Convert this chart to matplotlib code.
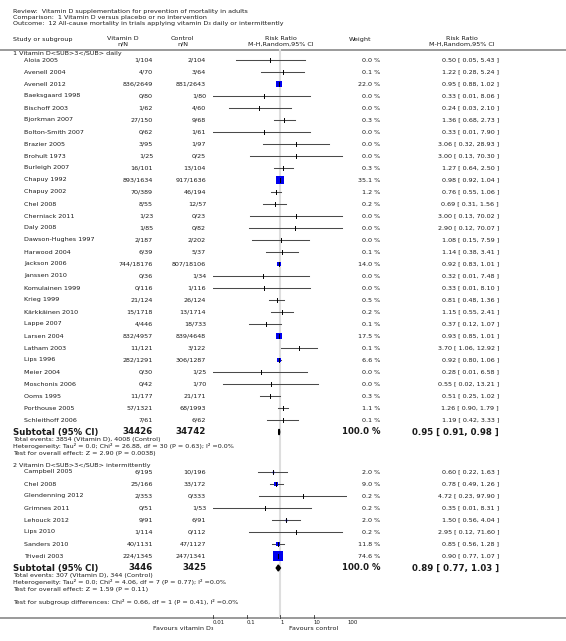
import numpy as np
import matplotlib
matplotlib.use("Agg")
import matplotlib.pyplot as plt
from matplotlib.patches import Polygon

# --- data ---
g1_names = ["Aloia 2005", "Avenell 2004", "Avenell 2012", "Baeksgaard 1998", "Bischoff 2003",
            "Bjorkman 2007", "Bolton-Smith 2007", "Brazier 2005", "Brohult 1973", "Burleigh 2007",
            "Chapuy 1992", "Chapuy 2002", "Chel 2008", "Cherniack 2011", "Daly 2008",
            "Dawson-Hughes 1997", "Harwood 2004", "Jackson 2006", "Janssen 2010", "Komulainen 1999",
            "Krieg 1999", "Kärkkäinen 2010", "Lappe 2007", "Larsen 2004", "Latham 2003",
            "Lips 1996", "Meier 2004", "Moschonis 2006", "Ooms 1995", "Porthouse 2005",
            "Schleithoff 2006"]
g1_vitd = ["1/104", "4/70", "836/2649", "0/80", "1/62", "27/150", "0/62", "3/95", "1/25", "16/101",
           "893/1634", "70/389", "8/55", "1/23", "1/85", "2/187", "6/39", "744/18176", "0/36", "0/116",
           "21/124", "15/1718", "4/446", "832/4957", "11/121", "282/1291", "0/30", "0/42", "11/177",
           "57/1321", "7/61"]
g1_ctrl = ["2/104", "3/64", "881/2643", "1/80", "4/60", "9/68", "1/61", "1/97", "0/25", "13/104",
           "917/1636", "46/194", "12/57", "0/23", "0/82", "2/202", "5/37", "807/18106", "1/34", "1/116",
           "26/124", "13/1714", "18/733", "839/4648", "3/122", "306/1287", "1/25", "1/70", "21/171",
           "68/1993", "6/62"]
g1_weight = [0.0, 0.1, 22.0, 0.0, 0.0, 0.3, 0.0, 0.0, 0.0, 0.3, 35.1, 1.2, 0.2, 0.0, 0.0, 0.0, 0.1,
             14.0, 0.0, 0.0, 0.5, 0.2, 0.1, 17.5, 0.1, 6.6, 0.0, 0.0, 0.3, 1.1, 0.1]
g1_rr = [0.50, 1.22, 0.95, 0.33, 0.24, 1.36, 0.33, 3.06, 3.00, 1.27, 0.98, 0.76, 0.69, 3.00, 2.90,
         1.08, 1.14, 0.92, 0.32, 0.33, 0.81, 1.15, 0.37, 0.93, 3.70, 0.92, 0.28, 0.55, 0.51, 1.26, 1.19]
g1_lo = [0.05, 0.28, 0.88, 0.01, 0.03, 0.68, 0.01, 0.32, 0.13, 0.64, 0.92, 0.55, 0.31, 0.13, 0.12,
         0.15, 0.38, 0.83, 0.01, 0.01, 0.48, 0.55, 0.12, 0.85, 1.06, 0.80, 0.01, 0.02, 0.25, 0.90, 0.42]
g1_hi = [5.43, 5.24, 1.02, 8.06, 2.10, 2.73, 7.90, 28.93, 70.30, 2.50, 1.04, 1.06, 1.56, 70.02, 70.07,
         7.59, 3.41, 1.01, 7.48, 8.10, 1.36, 2.41, 1.07, 1.01, 12.92, 1.06, 6.58, 13.21, 1.02, 1.79, 3.33]

g2_names = ["Campbell 2005", "Chel 2008", "Glendenning 2012", "Grimnes 2011", "Lehouck 2012",
            "Lips 2010", "Sanders 2010", "Trivedi 2003"]
g2_vitd = ["6/195", "25/166", "2/353", "0/51", "9/91", "1/114", "40/1131", "224/1345"]
g2_ctrl = ["10/196", "33/172", "0/333", "1/53", "6/91", "0/112", "47/1127", "247/1341"]
g2_weight = [2.0, 9.0, 0.2, 0.2, 2.0, 0.2, 11.8, 74.6]
g2_rr = [0.60, 0.78, 4.72, 0.35, 1.50, 2.95, 0.85, 0.90]
g2_lo = [0.22, 0.49, 0.23, 0.01, 0.56, 0.12, 0.56, 0.77]
g2_hi = [1.63, 1.26, 97.90, 8.31, 4.04, 71.60, 1.28, 1.07]

sub_n = [("34426", "34742"), ("3446", "3425")]
sub_rr = [0.95, 0.89]
sub_lo = [0.91, 0.77]
sub_hi = [0.98, 1.03]
sub_notes = [
    ["Total events: 3854 (Vitamin D), 4008 (Control)",
     "Heterogeneity: Tau² = 0.0; Chi² = 26.88, df = 30 (P = 0.63); I² =0.0%",
     "Test for overall effect: Z = 2.90 (P = 0.0038)"],
    ["Total events: 307 (Vitamin D), 344 (Control)",
     "Heterogeneity: Tau² = 0.0; Chi² = 4.06, df = 7 (P = 0.77); I² =0.0%",
     "Test for overall effect: Z = 1.59 (P = 0.11)"],
]
group_titles = ["1 Vitamin D<SUB>3</SUB> daily", "2 Vitamin D<SUB>3</SUB> intermittently"]
tick_vals = [0.01, 0.1, 1, 10, 100]
tick_labels = ["0.01", "0.1", "1", "10", "100"]

groups = [
    (g1_names, g1_vitd, g1_ctrl, g1_weight, g1_rr, g1_lo, g1_hi),
    (g2_names, g2_vitd, g2_ctrl, g2_weight, g2_rr, g2_lo, g2_hi),
]

W, H = 566, 641
fig = plt.figure(figsize=(W / 100, H / 100), dpi=100)
fig.patch.set_facecolor("white")

# text layer in pixel coordinates
tx = fig.add_axes([0, 0, 1, 1])
tx.set_xlim(0, W)
tx.set_ylim(H, 0)
tx.axis("off")

# forest layer: log x, pixel y
fx = fig.add_axes([213 / W, 0, 134 / W, 1])
fx.set_xscale("log")
fx.set_xlim(0.01, 100)
fx.set_ylim(H, 0)
fx.axis("off")
fx.patch.set_alpha(0)

TXT = "#1a1a1a"
FS = 4.6
SMALL = 4.55


def t(x, y, s, ha="left", size=FS, weight="normal"):
    tx.text(x, y, s, ha=ha, va="center", fontsize=size, color=TXT, fontweight=weight)


t(13, 11, "Review:  Vitamin D supplementation for prevention of mortality in adults", size=SMALL)
t(13, 17, "Comparison:  1 Vitamin D versus placebo or no intervention", size=SMALL)
t(13, 23, "Outcome:  12 All-cause mortality in trials applying vitamin D₃ daily or intermittently", size=SMALL)

t(13, 39, "Study or subgroup")
t(123, 39, "Vitamin D", ha="center")
t(123, 44, "n/N", ha="center")
t(182, 39, "Control", ha="center")
t(183, 44, "n/N", ha="center")
t(281, 39, "Risk Ratio", ha="center")
t(281, 44, "M-H,Random,95% CI", ha="center")
t(360, 39, "Weight", ha="center")
t(462, 39, "Risk Ratio", ha="center")
t(462, 44, "M-H,Random,95% CI", ha="center")

tx.plot([0, W], [49.5, 49.5], color="#9a9a9a", lw=1.4, solid_capstyle="butt")
tx.plot([0, W], [617.5, 617.5], color="#9a9a9a", lw=1.4, solid_capstyle="butt")

# reference line at RR = 1
fx.plot([1, 1], [50, 617], color="#dedede", lw=1.5, zorder=0)

starts = [54, 466]
for gi, (names, vd, ct, wt, rr, lo, hi) in enumerate(groups):
    y0 = starts[gi]
    t(13, y0, group_titles[gi])
    for i, name in enumerate(names):
        y = y0 + 6 + 12 * i
        t(24, y, name)
        t(153, y, vd[i], ha="right")
        t(206, y, ct[i], ha="right")
        t(380, y, f"{wt[i]:.1f} %", ha="right")
        t(499, y, f"{rr[i]:.2f} [ {lo[i]:.2f}, {hi[i]:.2f} ]", ha="right")
        fx.plot([lo[i], hi[i]], [y, y], color="#4a4a4a", lw=0.75, zorder=2)
        side = 1.2 * np.sqrt(wt[i])
        if side >= 1.6:
            fx.plot([rr[i]], [y], marker="s", ms=side * 0.72, mew=0,
                    color="#0000ee", zorder=3)
        fx.plot([rr[i], rr[i]], [y - 1.6, y + 1.6], color="black", lw=0.7, zorder=4)
    ys = y0 + 6 + 12 * len(names)
    t(13, ys, "Subtotal (95% CI)", size=6.2, weight="bold")
    t(153, ys, sub_n[gi][0], ha="right", size=6.2, weight="bold")
    t(206, ys, sub_n[gi][1], ha="right", size=6.2, weight="bold")
    t(380, ys, "100.0 %", ha="right", size=6.2, weight="bold")
    t(499, ys, f"{sub_rr[gi]:.2f} [ {sub_lo[gi]:.2f}, {sub_hi[gi]:.2f} ]",
      ha="right", size=6.2, weight="bold")
    fx.add_patch(Polygon([(sub_lo[gi], ys), (sub_rr[gi], ys - 3), (sub_hi[gi], ys),
                          (sub_rr[gi], ys + 3)], closed=True, color="black", zorder=4))
    for k, note in enumerate(sub_notes[gi]):
        t(13, ys + 7 + 7 * k, note, size=SMALL)

t(13, 602, "Test for subgroup differences: Chi² = 0.66, df = 1 (P = 0.41), I² =0.0%", size=SMALL)

# axis ticks
for v, lab in zip(tick_vals, tick_labels):
    fx.plot([v, v], [614.5, 617.5], color="#333333", lw=0.6)
    fx.text(v, 622, lab, ha="left", va="center", fontsize=3.9, color=TXT)

fx.text(0.01, 629, "Favours vitamin D₃", ha="right", va="center", fontsize=FS, color=TXT)
fx.text(1.9, 629, "Favours control", ha="left", va="center", fontsize=FS, color=TXT)

fig.savefig("out.png", dpi=100, facecolor="white")
